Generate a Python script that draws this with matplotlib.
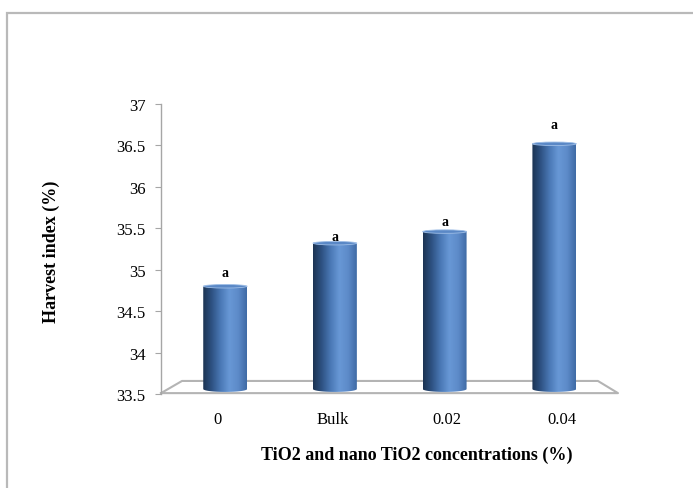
import numpy as np
import matplotlib
matplotlib.use('Agg')
import matplotlib.pyplot as plt
from matplotlib.colors import LinearSegmentedColormap
from matplotlib.patches import Rectangle, Ellipse, Polygon
from matplotlib.ticker import FormatStrFormatter

categories = ['0', 'Bulk', '0.02', '0.04']
harvest_index = [34.8, 35.32, 35.46, 36.52]
letters = ['a', 'a', 'a', 'a']
y_ticks = [33.5, 34, 34.5, 35, 35.5, 36, 36.5, 37]

plt.rcParams['font.family'] = ['Liberation Serif', 'DejaVu Serif']

fig = plt.figure(figsize=(6.93, 4.89), dpi=100)
W, H = 693, 489
ax = fig.add_axes([161 / W, 94 / H, 457 / W, 290 / H])

# outer chart frame (cut off on the right and bottom)
fig.add_artist(Rectangle((7 / W, -0.1), 1.2, (H - 14) / H + 0.1, transform=fig.transFigure,
                         fill=False, edgecolor='#b9b9b9', lw=1.6))

cyl = LinearSegmentedColormap.from_list('cyl', ['#1b3352', '#2e5283', '#4a78b5', '#6898d6',
                                                '#5d8bc9', '#3f6aa5'])
grad = np.linspace(0, 1, 256).reshape(1, -1)

x = np.arange(len(categories))
base = 33.56
width = 0.40
bars = ax.bar(x, np.array(harvest_index) - base, bottom=base, width=width,
              color='none', edgecolor='none')

ell_h = 0.035
# the letters are not placed evenly above the bars in the original
letter_gap = [5, 0, 2.5, 9]
for b, val, let, gap in zip(bars, harvest_index, letters, letter_gap):
    x0 = b.get_x()
    x1 = x0 + b.get_width()
    xc = (x0 + x1) / 2
    # outline of the cylinder body with a rounded bottom
    t = np.linspace(np.pi, 2 * np.pi, 40)
    bottom_pts = np.column_stack([xc + width / 2 * np.cos(t), base + ell_h * np.sin(t)])
    pts = np.vstack([[x0, val], bottom_pts, [x1, val]])
    body = Polygon(pts, closed=True, facecolor='none', edgecolor='none')
    ax.add_patch(body)
    im = ax.imshow(grad, cmap=cyl, aspect='auto', extent=(x0, x1, base - ell_h, val),
                   zorder=2, interpolation='bicubic')
    im.set_clip_path(body)
    ax.add_patch(Ellipse((xc, val), width, ell_h * 1.2, facecolor='#5a88c6',
                         edgecolor='#9dbde6', lw=0.6, zorder=3))
    ax.annotate(let, (xc, val), xytext=(0, gap), textcoords='offset points',
                ha='center', va='bottom', fontsize=10, fontweight='bold', zorder=4)

ax.set_xlim(-0.585, 3.58)
ax.set_ylim(33.5, 37)

# floor of the 3d plot area
ax.plot([0, 0.046, 0.956, 1.0, 0], [0.003, 0.045, 0.045, 0.003, 0.003], transform=ax.transAxes,
        color='#b4b4b4', lw=1.5, clip_on=False, zorder=1)

for s in ['top', 'right', 'bottom']:
    ax.spines[s].set_visible(False)
ax.spines['left'].set_color('#a6a6a6')
ax.spines['left'].set_linewidth(1.0)

ax.set_yticks(y_ticks)
ax.yaxis.set_major_formatter(FormatStrFormatter('%g'))
ax.tick_params(axis='y', length=4, color='#a6a6a6', labelsize=12, pad=7)

# category labels sit on the front edge of the floor
label_pos = 1.5 + (x - 1.5) * 1.048
ax.set_xticks(label_pos)
ax.set_xticklabels(categories)
ax.tick_params(axis='x', length=0, labelsize=12, pad=12)

fig.text(417 / W, 1 - 455 / H, 'TiO2 and nano TiO2 concentrations (%)', ha='center', va='center',
         fontsize=13, fontweight='bold')
fig.text(51 / W, 1 - 252 / H, 'Harvest index (%)', rotation=90, ha='center', va='center',
         fontsize=13, fontweight='bold')

fig.savefig('out.png', dpi=100)
